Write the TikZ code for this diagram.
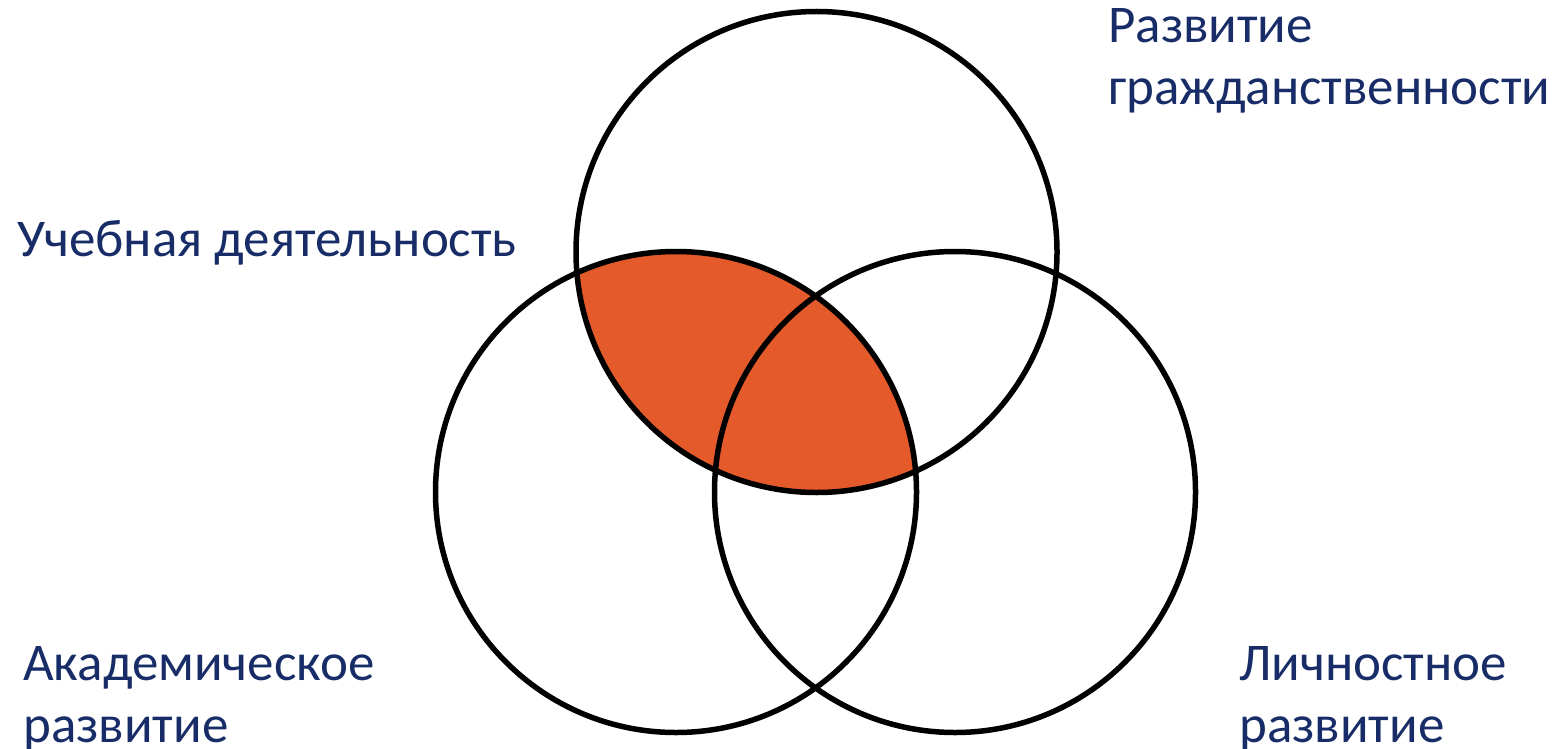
\documentclass[tikz,border=0pt]{standalone}
\usepackage{fontspec}
\setmainfont{Carlito}
\definecolor{txtblue}{RGB}{24,44,104}
\definecolor{lensorange}{RGB}{228,90,42}
\begin{document}
\begin{tikzpicture}[x=1pt,y=-1pt,
  ring/.style={draw=black,line width=5.5pt},
  lbl/.style={anchor=base west,inner sep=0pt,text=txtblue,font=\fontsize{53}{64}\selectfont}]
\useasboundingbox (0,0) rectangle (1560,749);
\coordinate (ct) at (816.5,252);
\coordinate (cl) at (676,492);
\coordinate (cr) at (955,492);
\def\R{240.5}
\begin{scope}
  \clip (ct) circle (\R);
  \fill[lensorange] (cl) circle (\R);
\end{scope}
\draw[ring] (ct) circle (\R);
\draw[ring] (cl) circle (\R);
\draw[ring] (cr) circle (\R);
\node[lbl] (t1) at (1108,43) {Развитие};
\node[lbl] (t2) at (1108,105) {гражданственности};
\node[lbl] (u) at (17,256) {Учебная деятельность};
\node[lbl] (a1) at (23,680) {Академическое};
\node[lbl] (a2) at (23,742) {развитие};
\node[lbl] (l1) at (1239,680) {Личностное};
\node[lbl] (l2) at (1239,742) {развитие};
\end{tikzpicture}
\end{document}
